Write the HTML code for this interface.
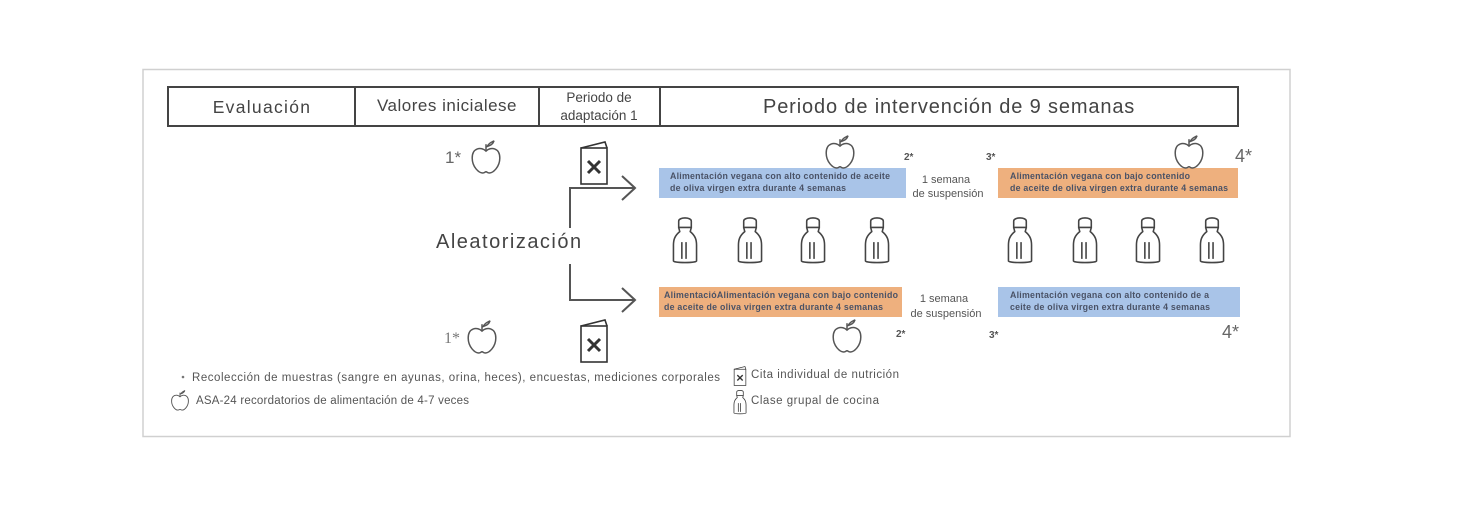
<!DOCTYPE html>
<html><head><meta charset="utf-8"><style>
html,body{margin:0;padding:0;background:#fff;}
svg{display:block;font-family:"Liberation Sans",sans-serif;}
</style></head><body>
<svg width="1474" height="506" viewBox="0 0 1474 506" xmlns="http://www.w3.org/2000/svg">
<defs>
<g id="apple0" fill="none" stroke="#555" stroke-width="1.3">
<path d="M0,-6 C-4,-10 -12,-9 -12,0 C-12,8 -6,13 -3,13 C-1,13 -1,12 0,12 C1,12 1,13 3,13 C6,13 12,8 12,0 C12,-9 4,-10 0,-6 Z"/>
<path d="M0,-6 L0,-12"/><path d="M1,-10 C3,-14 6,-14 7,-15 C6,-12 4,-11 1,-10Z"/>
</g>
<g id="apple" transform="scale(1.15)"><use href="#apple0"/></g>
<g id="menu" fill="none" stroke="#333" stroke-width="1.6">
<rect x="-13" y="-15" width="26" height="36"/>
<path d="M-13,-15 L11,-21 L13,-15"/>
<path d="M-6,-2 L6,10 M6,-2 L-6,10" stroke-width="3"/>
</g>
<g id="shaker0" fill="none" stroke="#444" stroke-width="1.5">
<path d="M-6,-18 C-6,-22 6,-22 6,-18 L6,-12 L-6,-12 Z"/>
<path d="M-6,-12 L-5,-8 C-10,-4 -11,0 -11,5 L-11,20 C-11,22 11,22 11,20 L11,5 C11,0 10,-4 5,-8 L6,-12"/>
<path d="M-3,2 L-3,18 M1,2 L1,18"/>
</g>
<g id="shaker" transform="scale(1.05)"><use href="#shaker0"/></g>
</defs>
<rect x="143" y="69.5" width="1147" height="367" fill="none" stroke="#d0d0d0" stroke-width="1.5"/>
<rect x="168" y="87" width="1070" height="39" fill="none" stroke="#444" stroke-width="2"/>
<line x1="355" y1="87" x2="355" y2="126" stroke="#444" stroke-width="2"/>
<line x1="539" y1="87" x2="539" y2="126" stroke="#444" stroke-width="2"/>
<line x1="660" y1="87" x2="660" y2="126" stroke="#444" stroke-width="2"/>
<g fill="#444" text-anchor="middle">
<text x="262" y="113" font-size="17.5" letter-spacing="1.3">Evaluación</text>
<text x="447" y="111" font-size="17" letter-spacing="0.5">Valores inicialese</text>
<text x="599" y="102" font-size="13.5">Periodo de</text>
<text x="599" y="120" font-size="13.5">adaptación 1</text>
<text x="949" y="113" font-size="20" letter-spacing="0.7" textLength="372">Periodo de intervención de 9 semanas</text>
</g>
<text x="445" y="163" font-size="17" fill="#666">1*</text>
<use href="#apple" x="486" y="158"/>
<use href="#menu" x="594" y="163"/>
<text x="436" y="248" font-size="20" fill="#444" letter-spacing="1.5">Aleatorización</text>
<g fill="none" stroke="#555" stroke-width="2">
<path d="M570,228 L570,188 L634,188 M622,176 L635,188 L622,200"/>
<path d="M570,264 L570,300 L634,300 M622,288 L635,300 L622,312"/>
</g>
<text x="444" y="343" font-size="16" fill="#777" font-family="Liberation Serif">1*</text>
<use href="#apple" x="482" y="338"/>
<use href="#menu" x="594" y="341"/>

<rect x="659" y="168" width="247" height="30" fill="#a9c4e8"/>
<rect x="998" y="168" width="240" height="30" fill="#eeb07e"/>
<rect x="659" y="287" width="243" height="30" fill="#eeb07e"/>
<rect x="998" y="287" width="242" height="30" fill="#a9c4e8"/>
<g font-size="8.8" font-weight="bold" fill="#4a5266" lengthAdjust="spacingAndGlyphs">
<text x="670" y="179" textLength="220">Alimentación vegana con alto contenido de aceite</text>
<text x="670" y="191" textLength="176">de oliva virgen extra durante 4 semanas</text>
<text x="1010" y="179" textLength="180">Alimentación vegana con bajo contenido</text>
<text x="1010" y="191" textLength="218">de aceite de oliva virgen extra durante 4 semanas</text>
<text x="664" y="298" textLength="234">AlimentacióAlimentación vegana con bajo contenido</text>
<text x="664" y="310" textLength="219">de aceite de oliva virgen extra durante 4 semanas</text>
<text x="1010" y="298" textLength="199">Alimentación vegana con alto contenido de a</text>
<text x="1010" y="310" textLength="200">ceite de oliva virgen extra durante 4 semanas</text>
</g>
<g font-size="11" fill="#555" text-anchor="middle">
<text x="946" y="183">1 semana</text><text x="948" y="197">de suspensión</text>
<text x="944" y="302">1 semana</text><text x="946" y="317">de suspensión</text>
</g>
<g font-size="10" font-weight="bold" fill="#555">
<text x="904" y="160">2*</text><text x="986" y="160">3*</text>
<text x="896" y="337">2*</text><text x="989" y="338">3*</text>
</g>
<text x="1235" y="162" font-size="18" fill="#666">4*</text>
<text x="1222" y="338" font-size="18" fill="#666">4*</text>
<use href="#apple" x="840" y="153"/>
<use href="#apple" x="1189" y="153"/>
<use href="#apple" x="847" y="337"/>
<use href="#shaker" x="685" y="240"/><use href="#shaker" x="750" y="240"/>
<use href="#shaker" x="813" y="240"/><use href="#shaker" x="877" y="240"/>
<use href="#shaker" x="1020" y="240"/><use href="#shaker" x="1085" y="240"/>
<use href="#shaker" x="1148" y="240"/><use href="#shaker" x="1212" y="240"/>

<g font-size="11.5" fill="#555" lengthAdjust="spacingAndGlyphs">
<circle cx="183" cy="377" r="1.3" fill="#777"/>
<text x="192" y="381" textLength="528">Recolección de muestras (sangre en ayunas, orina, heces), encuestas, mediciones corporales</text>
<text x="196" y="404" textLength="273">ASA-24 recordatorios de alimentación de 4-7 veces</text>
<text x="751" y="378" textLength="148">Cita individual de nutrición</text>
<text x="751" y="404" textLength="128">Clase grupal de cocina</text>
</g>
<g transform="translate(180,401) scale(0.7)"><use href="#apple0"/></g>
<g transform="translate(740,376) scale(0.45)"><use href="#menu"/></g>
<g transform="translate(740,402) scale(0.55)"><use href="#shaker0"/></g>
</svg>
</body></html>
